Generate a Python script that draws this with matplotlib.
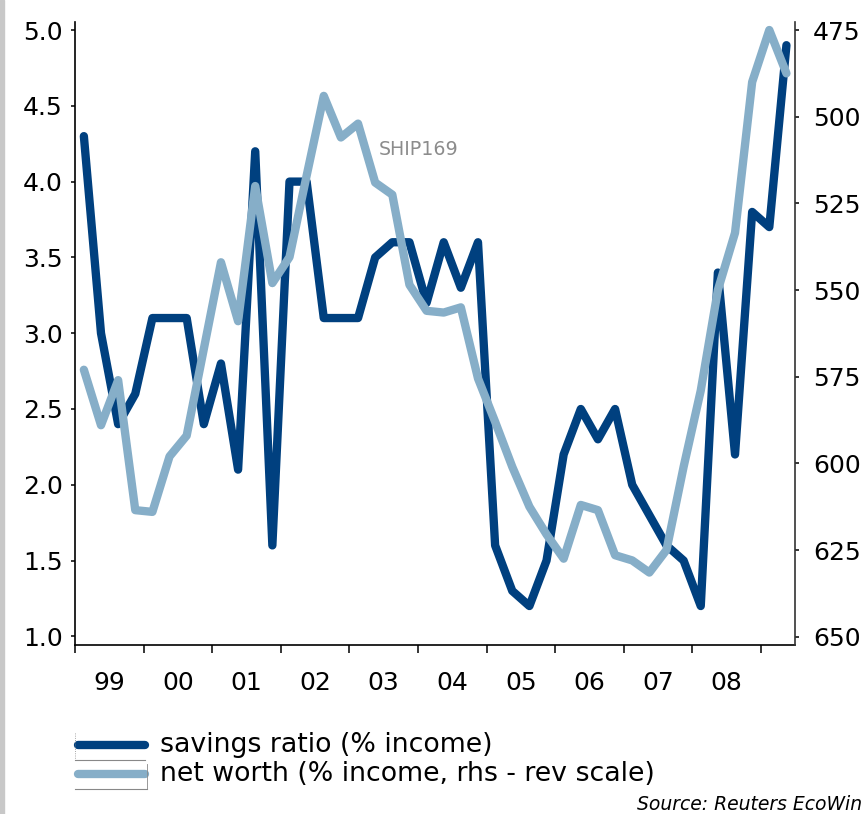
import numpy as np
import pandas as pd
import matplotlib
matplotlib.use("Agg")
import matplotlib.pyplot as plt
from matplotlib.lines import Line2D
from matplotlib.patches import Rectangle

# quarterly data, 1999Q1 - 2009Q2
quarters = pd.period_range("1999Q1", "2009Q2", freq="Q")
savings = [4.3, 3.0, 2.4, 2.6, 3.1, 3.1, 3.1, 2.4, 2.8, 2.1,
           4.2, 1.6, 4.0, 4.0, 3.1, 3.1, 3.1, 3.5, 3.6, 3.6,
           3.2, 3.6, 3.3, 3.6, 1.6, 1.3, 1.2, 1.5, 2.2, 2.5,
           2.3, 2.5, 2.0, 1.8, 1.6, 1.5, 1.2, 3.4, 2.2, 3.8,
           3.7, 4.9]
networth = [573, 589, 576, 613.5, 614, 598, 592, 567, 542, 559,
            520, 548, 540.5, 517, 494, 506, 502, 519, 522.5, 548.5,
            556, 556.5, 555, 575.5, 588, 601, 612.5, 620.5, 627.5, 612,
            613.5, 626.5, 628, 631.5, 625, 601, 579, 550, 533.5, 490,
            475, 487.5]
year_labels = ["99", "00", "01", "02", "03", "04", "05", "06", "07", "08"]
left_ticks = [1.0, 1.5, 2.0, 2.5, 3.0, 3.5, 4.0, 4.5, 5.0]
right_ticks = [475, 500, 525, 550, 575, 600, 625, 650]
names = ["savings ratio (% income)", "net worth (% income, rhs - rev scale)"]

dark = "#00407f"
light = "#86aec8"

x = np.array([p.year + (p.quarter - 0.5) / 4 for p in quarters])

W, H = 867, 814
fig = plt.figure(figsize=(W / 100, H / 100), dpi=100)
ax = fig.add_axes([75.3 / W, 1 - 645 / H, (795 - 75.3) / W, (645 - 21.7) / H])
ax2 = ax.twinx()

ax.plot(x, savings, color=dark, lw=6, solid_joinstyle="round", solid_capstyle="round")
ax2.plot(x, networth, color=light, lw=6, solid_joinstyle="round", solid_capstyle="round")

ax.set_xlim(1999.0, 2009.5)
ax.set_ylim(0.943, 5.055)
ax2.set_ylim(652.4, 472.6)

ax.set_yticks(left_ticks)
ax.set_yticklabels([f"{v:.1f}" for v in left_ticks])
ax2.set_yticks(right_ticks)
ax2.set_yticklabels([str(v) for v in right_ticks])

years = np.arange(1999, 2010)
ax.set_xticks(years)
ax.set_xticklabels([])
ax.set_xticks(years[:-1] + 0.5, minor=True)
ax.set_xticklabels(year_labels, minor=True)
ax.tick_params(axis="x", which="major", length=6, width=1.1, direction="out")
ax.tick_params(axis="x", which="minor", length=0, pad=19, labelsize=18)
ax.tick_params(axis="y", length=3, width=1.1, pad=6, labelsize=18)
ax2.tick_params(axis="y", length=3, width=1.1, pad=10, labelsize=18)

for a in (ax, ax2):
    a.spines["top"].set_visible(False)
    for s in ("left", "right", "bottom"):
        a.spines[s].set_linewidth(1.2)
ax.spines["right"].set_visible(False)
ax2.spines["left"].set_visible(False)
ax2.spines["bottom"].set_visible(False)
ax2.spines["right"].set_color("#333333")

ax2.text(2003.43, 509.5, "SHIP169", color="#8c8c8c", fontsize=13.7,
         ha="left", va="center")

# legend drawn by hand below the axes
rows_y = [745, 774]
for name, col, yy in zip(names, [dark, light], rows_y):
    fig.lines.append(Line2D([78 / W, 145 / W], [1 - yy / H] * 2, color=col, lw=6,
                            solid_capstyle="round", transform=fig.transFigure))
    fig.text(160 / W, 1 - yy / H, name, fontsize=19.3, ha="left", va="center")
# little box marks around the legend keys
fig.lines.append(Line2D([75 / W, 145 / W], [1 - 760 / H] * 2, color="#888888", lw=0.8,
                        transform=fig.transFigure))
fig.lines.append(Line2D([75 / W, 75 / W], [1 - 733 / H, 1 - 760 / H], color="#888888",
                        lw=0.6, ls=":", transform=fig.transFigure))
fig.lines.append(Line2D([75 / W, 147 / W], [1 - 789 / H] * 2, color="#888888", lw=0.8,
                        transform=fig.transFigure))
fig.lines.append(Line2D([147 / W, 147 / W], [1 - 764 / H, 1 - 789 / H], color="#888888",
                        lw=0.6, transform=fig.transFigure))

fig.text(862 / W, 1 - 804 / H, "Source: Reuters EcoWin", fontsize=13.5,
         style="italic", ha="right", va="center")

fig.patches.append(Rectangle((0, 0), 4 / W, 1, transform=fig.transFigure,
                             color="#c8c8c8", zorder=0))

fig.savefig("out.png", dpi=100)
